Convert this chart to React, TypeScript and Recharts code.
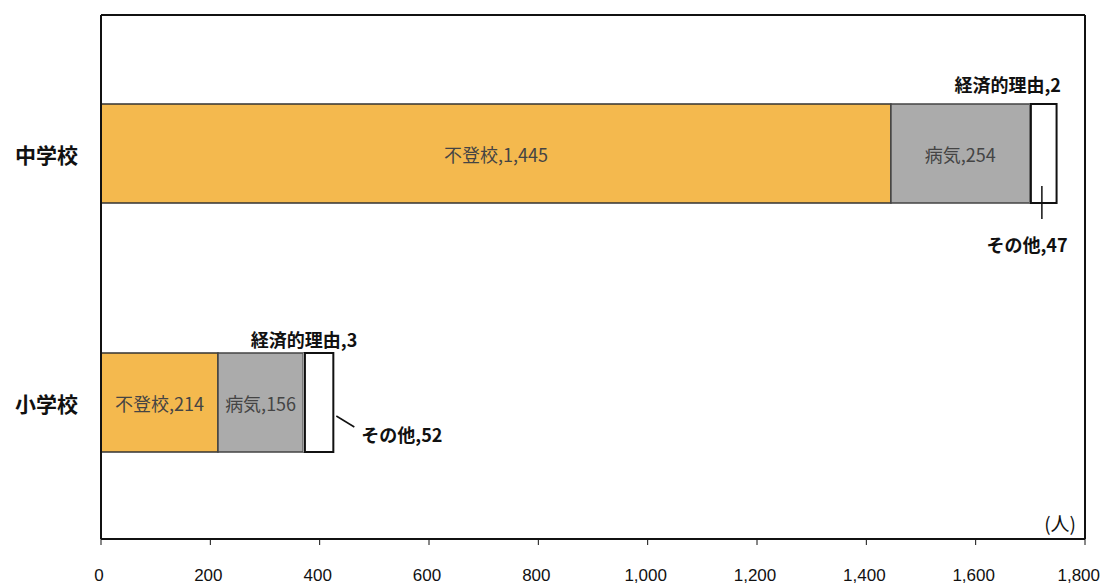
import { Bar, BarChart, LabelList, XAxis, YAxis } from "recharts";

const categories = ["中学校", "小学校"];
const futoko = [1445, 214];
const byoki = [254, 156];
const keizai = [2, 3];
const sonota = [47, 52];
const xTicks = [0, 200, 400, 600, 800, 1000, 1200, 1400, 1600, 1800];

const orange = "#f4b94e";
const gray = "#ababab";
const jp = "'Noto Sans CJK JP', 'Noto Sans', sans-serif";

const data = categories.map((name, i) => ({
  name,
  futoko: futoko[i],
  byoki: byoki[i],
  keizai: keizai[i],
  sonota: sonota[i],
}));

const fmt = (v: number) => v.toLocaleString("en-US");

function InnerLabel(label: string) {
  return (p: any) => {
    const { x, y, width, height, value } = p;
    return (
      <text
        x={x + width / 2}
        y={y + height / 2}
        textAnchor="middle"
        dominantBaseline="central"
        fontFamily={jp}
        fontSize={18}
        fill="#444"
      >
        {`${label},${fmt(value)}`}
      </text>
    );
  };
}

function KeizaiLabel(p: any) {
  const { x, y, width, value, index } = p;
  const mid = index === 0;
  return (
    <text
      x={mid ? x + width + 30 : x + width / 2}
      y={mid ? y - 20 : y - 14}
      textAnchor={mid ? "end" : "middle"}
      dominantBaseline="central"
      fontFamily={jp}
      fontWeight="bold"
      fontSize={18}
      fill="#111"
    >
      {`経済的理由,${value}`}
    </text>
  );
}

function SonotaLabel(p: any) {
  const { x, y, width, height, value, index } = p;
  const text = `その他,${value}`;
  if (index === 0) {
    const lx = x + 11;
    return (
      <g>
        <line x1={lx} y1={y + height - 17} x2={lx} y2={y + height + 16} stroke="#111" strokeWidth={1.5} />
        <text
          x={x + width + 11}
          y={y + height + 41}
          textAnchor="end"
          dominantBaseline="central"
          fontFamily={jp}
          fontWeight="bold"
          fontSize={18}
          fill="#111"
        >
          {text}
        </text>
      </g>
    );
  }
  const r = x + width;
  return (
    <g>
      <line x1={r + 3} y1={y + 63} x2={r + 21} y2={y + 74} stroke="#111" strokeWidth={1.5} />
      <text
        x={r + 28}
        y={y + 81}
        textAnchor="start"
        dominantBaseline="central"
        fontFamily={jp}
        fontWeight="bold"
        fontSize={18}
        fill="#111"
      >
        {text}
      </text>
    </g>
  );
}

function CatTick(p: any) {
  const { x, y, payload } = p;
  return (
    <text
      x={x - 15}
      y={y}
      textAnchor="end"
      dominantBaseline="central"
      fontFamily={jp}
      fontWeight="bold"
      fontSize={21}
      fill="#111"
    >
      {payload.value}
    </text>
  );
}

function NumTick(p: any) {
  const { x, payload, index } = p;
  const last = payload.value === xTicks[xTicks.length - 1];
  return (
    <text
      x={last ? x + 15 : x - 2}
      y={575}
      textAnchor={last ? "end" : "middle"}
      dominantBaseline="central"
      fontFamily="'Liberation Sans', sans-serif"
      fontSize={17}
      fill="#111"
      key={index}
    >
      {fmt(payload.value)}
    </text>
  );
}

export default function App() {
  return (
    <div style={{ position: "absolute", left: 0, top: 0, width: 1104, height: 585, background: "#fff" }}>
      <BarChart
        width={1104}
        height={585}
        data={data}
        layout="vertical"
        margin={{ top: 14, right: 18, bottom: 0, left: 0 }}
        barSize={99}
      >
        <XAxis
          type="number"
          domain={[0, 1800]}
          ticks={xTicks}
          height={46}
          tickSize={6}
          tick={<NumTick />}
          axisLine={{ stroke: "#111", strokeWidth: 2 }}
          tickLine={{ stroke: "#111" }}
          interval={0}
        />
        <XAxis
          xAxisId="top"
          orientation="top"
          type="number"
          domain={[0, 1800]}
          ticks={xTicks}
          height={1}
          tick={false}
          tickLine={false}
          axisLine={{ stroke: "#111", strokeWidth: 2 }}
        />
        <YAxis
          type="category"
          dataKey="name"
          width={101}
          padding={{ top: 14, bottom: 12 }}
          tick={<CatTick />}
          tickLine={false}
          axisLine={{ stroke: "#111", strokeWidth: 2 }}
        />
        <YAxis
          yAxisId="r"
          orientation="right"
          type="category"
          dataKey="name"
          width={1}
          tick={false}
          tickLine={false}
          axisLine={{ stroke: "#111", strokeWidth: 2 }}
        />
        <Bar dataKey="futoko" stackId="a" fill={orange} stroke="#333" strokeWidth={1.5} isAnimationActive={false}>
          <LabelList dataKey="futoko" content={InnerLabel("不登校")} />
        </Bar>
        <Bar dataKey="byoki" stackId="a" fill={gray} stroke="#444" strokeWidth={1.5} isAnimationActive={false}>
          <LabelList dataKey="byoki" content={InnerLabel("病気")} />
        </Bar>
        <Bar dataKey="keizai" stackId="a" fill="#fff" stroke="#888" strokeWidth={0.5} isAnimationActive={false}>
          <LabelList dataKey="keizai" content={KeizaiLabel} />
        </Bar>
        <Bar dataKey="sonota" stackId="a" fill="#fff" stroke="#111" strokeWidth={2} isAnimationActive={false}>
          <LabelList dataKey="sonota" content={SonotaLabel} />
        </Bar>
        <text x={1076} y={522} textAnchor="end" dominantBaseline="central" fontFamily={jp} fontSize={19} fill="#111">
          (人)
        </text>
      </BarChart>
    </div>
  );
}
